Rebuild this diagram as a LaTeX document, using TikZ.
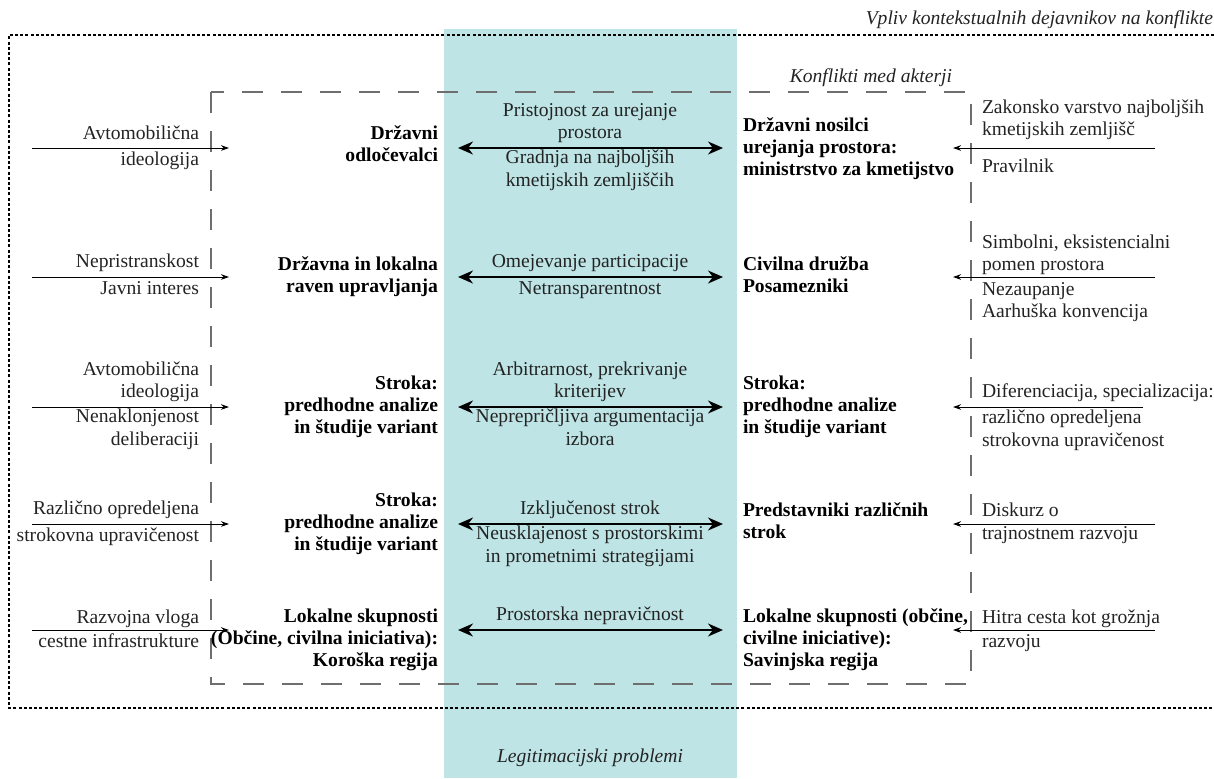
\documentclass[tikz,border=0pt]{standalone}
\usepackage{fontspec}
\setmainfont{Liberation Serif}
\usetikzlibrary{arrows.meta}
\definecolor{tealbg}{RGB}{190,228,229}
\definecolor{boxgray}{RGB}{110,110,110}
\definecolor{txtgray}{RGB}{35,35,35}
\begin{document}
\begin{tikzpicture}[x=0.5pt,y=-0.5pt,
  every node/.style={font=\fontsize{9.8}{11.2}\selectfont, inner sep=0pt, outer sep=0pt, text=txtgray},
  txt/.style={execute at begin node=\strut, execute at end node=\strut},
  actorL/.style={txt, text=black, font=\fontsize{9.8}{11.2}\selectfont\bfseries, align=right, anchor=east, inner xsep=10pt},
  actorR/.style={txt, text=black, font=\fontsize{9.8}{11.2}\selectfont\bfseries, align=left, anchor=west, inner xsep=10pt},
  lup/.style={txt, align=right, anchor=south east, inner ysep=1.15pt},
  ldn/.style={txt, align=right, anchor=north east, inner ysep=1.15pt},
  cup/.style={txt, align=center, anchor=south, inner ysep=1.15pt},
  cdn/.style={txt, align=center, anchor=north, inner ysep=1.15pt},
  rup/.style={txt, align=left, anchor=south west, inner ysep=1.15pt},
  rdn/.style={txt, align=left, anchor=north west, inner ysep=1.15pt},
  ital/.style={font=\fontsize{9.8}{11.2}\selectfont\itshape},
  bigarrow/.style={line width=1pt, {Stealth[length=7.5pt,width=6.5pt]}-{Stealth[length=7.5pt,width=6.5pt]}},
  smallarrow/.style={line width=0.5pt, -{Stealth[length=4pt,width=2.8pt]}},
  dotline/.style={line width=0.9pt, dash pattern=on 1.5pt off 1.1pt},
  dashline/.style={line width=0.55pt, boxgray, dash pattern=on 10.5pt off 9pt}
]
\useasboundingbox (0,0) rectangle (1214,778);
% legitimacy band
\fill[tealbg] (444,29) rectangle (737,778);

% outer context frame (dotted)
\coordinate (o1) at (1214,35);
\coordinate (o2) at (9,35);
\coordinate (o3) at (9,708);
\coordinate (o4) at (1214,708);
\draw[dotline] (o1) -- (o2) -- (o3) -- (o4);
\node[ital, anchor=east] (ctx) at (1213,20) {Vpliv kontekstualnih dejavnikov na konflikte};

% inner actor frame (dashed)
\coordinate (d1) at (211,92);
\coordinate (d2) at (971,684);
\draw[dashline] (d1) rectangle (d2);
\node[ital, anchor=east] (conf) at (952,78) {Konflikti med akterji};

\node[ital] (legit) at (590,758) {Legitimacijski problemi};

% row coordinates
\coordinate (r1) at (590,148);
\coordinate (r2) at (590,277);
\coordinate (r3) at (590,407);
\coordinate (r4) at (590,524);
\coordinate (r5) at (590,630);

% ---------- Row 1
\node[actorL] (a1) at (458,147) {Državni\\odločevalci};
\node[actorR] (b1) at (723,150) {Državni nosilci\\urejanja prostora:\\ministrstvo za kmetijstvo};
\draw[bigarrow] (a1.east |- r1) -- (b1.west |- r1);
\node[cup] (c1u) at (590,148) {Pristojnost za urejanje\\prostora};
\node[cdn] (c1d) at (590,148) {Gradnja na najboljših\\kmetijskih zemljiščih};
\coordinate (ls1) at (32,148); \coordinate (le1) at (229,148);
\draw[smallarrow] (ls1) -- (le1);
\node[lup] (l1u) at (199,149) {Avtomobilična};
\node[ldn] (l1d) at (199,148) {ideologija};
\coordinate (rs1) at (1155,148); \coordinate (re1) at (953,148);
\draw[smallarrow] (rs1) -- (re1);
\node[rup] (x1u) at (982,145) {Zakonsko varstvo najboljših\\kmetijskih zemljišč};
\node[rdn] (x1d) at (982,155) {Pravilnik};

% ---------- Row 2
\node[actorL] (a2) at (458,278) {Državna in lokalna\\raven upravljanja};
\node[actorR] (b2) at (723,278) {Civilna družba\\Posamezniki};
\draw[bigarrow] (a2.east |- r2) -- (b2.west |- r2);
\node[cup] (c2u) at (590,277) {Omejevanje participacije};
\node[cdn] (c2d) at (590,277) {Netransparentnost};
\coordinate (ls2) at (32,277); \coordinate (le2) at (229,277);
\draw[smallarrow] (ls2) -- (le2);
\node[lup] (l2u) at (199,277) {Nepristranskost};
\node[ldn] (l2d) at (199,277) {Javni interes};
\coordinate (rs2) at (1155,277); \coordinate (re2) at (953,277);
\draw[smallarrow] (rs2) -- (re2);
\node[rup] (x2u) at (982,280) {Simbolni, eksistencialni\\pomen prostora};
\node[rdn] (x2d) at (982,280) {Nezaupanje\\Aarhuška konvencija};

% ---------- Row 3
\node[actorL] (a3) at (458,408) {Stroka:\\predhodne analize\\in študije variant};
\node[actorR] (b3) at (723,408) {Stroka:\\predhodne analize\\in študije variant};
\draw[bigarrow] (a3.east |- r3) -- (b3.west |- r3);
\node[cup] (c3u) at (590,407) {Arbitrarnost, prekrivanje\\kriterijev};
\node[cdn] (c3d) at (590,407) {Neprepričljiva argumentacija\\izbora};
\coordinate (ls3) at (32,407); \coordinate (le3) at (229,407);
\draw[smallarrow] (ls3) -- (le3);
\node[lup] (l3u) at (199,407) {Avtomobilična\\ideologija};
\node[ldn] (l3d) at (199,407) {Nenaklonjenost\\deliberaciji};
\coordinate (rs3) at (1143,407); \coordinate (re3) at (953,407);
\draw[smallarrow] (rs3) -- (re3);
\node[rup] (x3u) at (982,407) {Diferenciacija, specializacija:};
\node[rdn] (x3d) at (982,408) {različno opredeljena\\strokovna upravičenost};

% ---------- Row 4
\node[actorL] (a4) at (458,525) {Stroka:\\predhodne analize\\in študije variant};
\node[actorR] (b4) at (723,524) {Predstavniki različnih\\strok};
\draw[bigarrow] (a4.east |- r4) -- (b4.west |- r4);
\node[cup] (c4u) at (590,524) {Izključenost strok};
\node[cdn] (c4d) at (590,524) {Neusklajenost s prostorskimi\\in prometnimi strategijami};
\coordinate (ls4) at (32,524); \coordinate (le4) at (229,524);
\draw[smallarrow] (ls4) -- (le4);
\node[lup] (l4u) at (199,524) {Različno opredeljena};
\node[ldn] (l4d) at (199,524) {strokovna upravičenost};
\coordinate (rs4) at (1155,524); \coordinate (re4) at (953,524);
\draw[smallarrow] (rs4) -- (re4);
\node[rup] (x4u) at (982,526) {Diskurz o};
\node[rdn] (x4d) at (982,522) {trajnostnem razvoju};

% ---------- Row 5
\node[actorL] (a5) at (458,641) {Lokalne skupnosti\\(Občine, civilna iniciativa):\\Koroška regija};
\node[actorR] (b5) at (723,641) {Lokalne skupnosti (občine,\\civilne iniciative):\\Savinjska regija};
\draw[bigarrow] (a5.east |- r5) -- (b5.west |- r5);
\node[cup] (c5u) at (590,630) {Prostorska nepravičnost};
\coordinate (ls5) at (32,630); \coordinate (le5) at (229,630);
\draw[smallarrow] (ls5) -- (le5);
\node[lup] (l5u) at (199,633) {Razvojna vloga};
\node[ldn] (l5d) at (199,630) {cestne infrastrukture};
\coordinate (rs5) at (1155,630); \coordinate (re5) at (953,630);
\draw[smallarrow] (rs5) -- (re5);
\node[rup] (x5u) at (982,633) {Hitra cesta kot grožnja};
\node[rdn] (x5d) at (982,630) {razvoju};
\end{tikzpicture}
\end{document}
